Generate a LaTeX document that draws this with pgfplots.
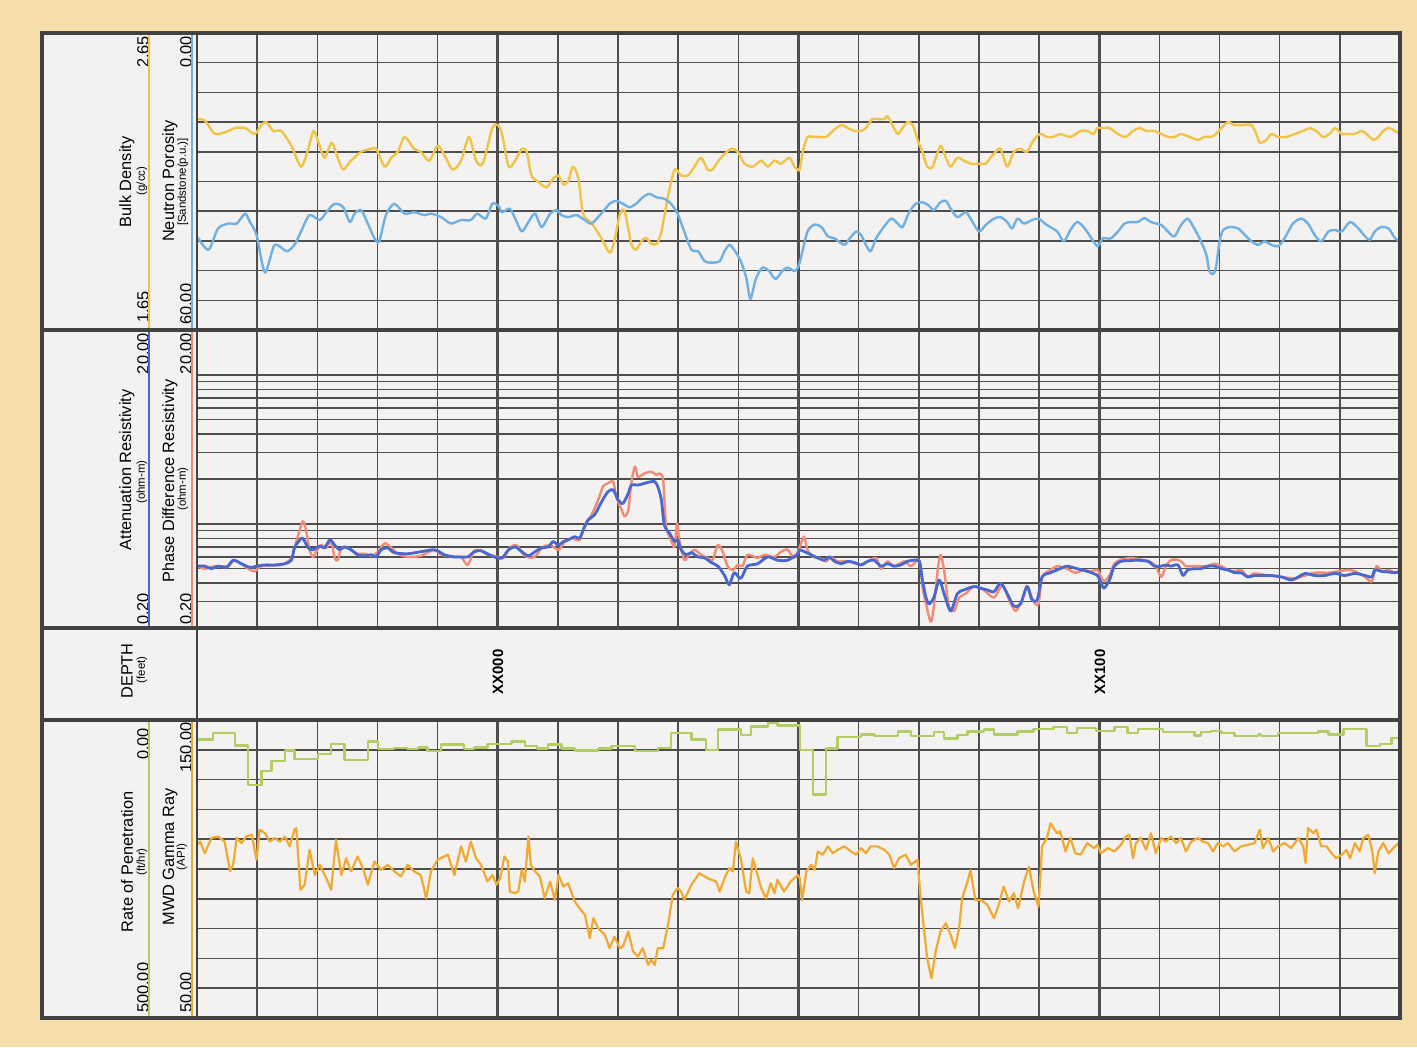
\documentclass[border=0pt]{standalone}
\usepackage{fontspec}
\setmainfont{Liberation Sans}
\usepackage{pgfplots}
\pgfplotsset{compat=1.18}
\definecolor{bgtan}{RGB}{246,222,172}
\definecolor{panel}{RGB}{243,242,240}
\definecolor{gridc}{RGB}{78,78,78}
\definecolor{framec}{RGB}{66,66,66}
\definecolor{densc}{RGB}{240,196,72}
\definecolor{neutc}{RGB}{112,176,226}
\definecolor{attc}{RGB}{72,104,208}
\definecolor{phasec}{RGB}{240,140,118}
\definecolor{ropc}{RGB}{178,206,98}
\definecolor{grc}{RGB}{240,170,50}
\pgfplotsset{
  track/.style={scale only axis, width=1203bp, anchor=north west,
    xmin=-50, xmax=150, xtick={-40,-30,...,140}, xticklabels={}, yticklabels={},
    major tick length=0pt, grid=major,
    major grid style={draw=gridc, line width=1.45bp},
    axis line style={draw=none},
    extra x ticks={0,50,100}, extra x tick labels={},
    extra x tick style={major grid style={draw=gridc, line width=2.7bp}}},
  ovl/.style={scale only axis, width=1203bp, anchor=north west,
    xmin=-50, xmax=150, hide axis},
  crv/.style={line width=2.4bp, line join=round, line cap=round},
  sm/.style={smooth, tension=0.45}
}
\newcommand{\hf}{\fontsize{16.4}{18}\selectfont}
\newcommand{\smf}{\fontsize{11.5}{13}\selectfont}
\newcommand{\nf}{\fontsize{16.4}{18}\selectfont}
\begin{document}
\begin{tikzpicture}[x=1bp,y=1bp]
\fill[bgtan] (0,0) rectangle (1417,1047);
\fill[panel] (42,29) rectangle (1400,1014);
% ---------------- top track: density / neutron
\begin{axis}[track, at={(197bp,1014bp)}, height=297bp, ymin=1.65, ymax=2.65,
  ytick={1.75,1.85,1.95,2.05,2.15,2.25,2.35,2.45,2.55}]
\addplot[crv, sm, densc] table {
-50.0 2.36
-48.7 2.355
-47.0 2.31
-44.8 2.32
-43.7 2.33
-42.0 2.33
-40.4 2.31
-39.3 2.34
-38.5 2.35
-37.3 2.32
-36.0 2.32
-34.3 2.27
-32.7 2.20
-31.5 2.26
-30.6 2.32
-29.6 2.27
-28.8 2.23
-27.6 2.28
-26.6 2.23
-25.7 2.19
-24.4 2.22
-22.7 2.25
-21.0 2.26
-20.2 2.26
-18.8 2.20
-17.7 2.23
-16.6 2.25
-15.5 2.30
-13.9 2.26
-12.8 2.25
-11.4 2.22
-10.0 2.27
-8.9 2.24
-7.5 2.19
-6.1 2.22
-4.8 2.30
-3.6 2.22
-2.5 2.21
-0.9 2.33
0.0 2.34
0.7 2.31
1.8 2.20
2.9 2.22
4.0 2.26
4.8 2.25
5.6 2.17
6.7 2.15
8.1 2.13
9.2 2.16
10.1 2.17
10.9 2.14
11.7 2.15
12.5 2.20
13.4 2.16
14.2 2.04
15.6 2.01
17.2 1.96
18.6 1.91
19.4 1.95
20.3 2.04
21.1 2.05
22.2 1.94
23.0 1.92
23.9 1.95
24.7 1.96
25.5 1.94
26.4 1.94
27.2 1.98
28.3 2.10
29.4 2.19
30.5 2.17
31.6 2.17
32.7 2.20
33.8 2.23
34.9 2.19
35.7 2.19
37.1 2.23
38.8 2.26
39.9 2.25
41.0 2.21
42.4 2.20
43.8 2.22
44.9 2.20
46.0 2.22
47.1 2.21
48.5 2.23
49.3 2.20
49.9 2.19
50.2 2.19
50.7 2.25
51.5 2.30
52.4 2.30
53.5 2.30
54.6 2.30
55.7 2.32
57.1 2.34
58.2 2.33
59.3 2.32
60.4 2.32
61.2 2.33
62.3 2.36
63.4 2.36
64.3 2.36
64.8 2.37
65.6 2.34
66.5 2.31
67.3 2.33
68.1 2.35
69.0 2.34
69.8 2.29
70.6 2.25
71.4 2.20
72.3 2.20
73.6 2.27
74.5 2.23
75.3 2.20
76.4 2.23
77.5 2.22
78.6 2.21
79.7 2.21
81.1 2.21
81.9 2.23
82.8 2.25
83.6 2.26
84.7 2.20
85.8 2.25
86.9 2.26
88.0 2.25
89.1 2.29
90.2 2.31
91.3 2.30
92.4 2.30
93.5 2.31
95.2 2.30
96.9 2.32
98.0 2.32
99.1 2.31
99.7 2.33
100.6 2.33
101.7 2.33
103.1 2.31
104.4 2.30
105.6 2.32
106.7 2.33
107.8 2.32
109.2 2.32
110.3 2.31
111.4 2.30
112.5 2.30
113.6 2.31
115.0 2.30
116.4 2.29
117.5 2.30
118.6 2.30
119.4 2.31
120.3 2.33
121.4 2.35
122.5 2.34
123.9 2.34
125.3 2.34
126.1 2.31
126.7 2.28
127.8 2.29
128.6 2.31
129.7 2.30
131.1 2.30
132.5 2.31
133.9 2.32
135.0 2.33
136.1 2.32
137.2 2.30
138.3 2.31
139.2 2.33
140.3 2.31
141.4 2.31
142.5 2.31
143.6 2.32
144.4 2.31
145.6 2.29
146.4 2.30
147.2 2.32
148.1 2.33
149.2 2.32
150.0 2.31
};
\end{axis}
\begin{axis}[ovl, at={(197bp,1014bp)}, height=297bp, ymin=0, ymax=60, y dir=reverse]
\addplot[crv, sm, neutc] table {
-50.0 41.1
-48.1 43.8
-46.5 39.5
-44.8 38.5
-43.4 38.5
-42.0 36.5
-41.2 38.2
-40.1 40.8
-38.7 48.4
-37.1 42.8
-35.1 44.1
-33.8 42.8
-32.7 40.1
-31.3 36.8
-29.6 37.8
-28.5 36.2
-27.1 34.5
-25.7 35.2
-24.6 38.2
-23.8 36.5
-22.7 35.8
-21.6 38.5
-20.5 41.5
-19.7 42.1
-18.6 36.8
-17.2 34.5
-15.5 36.5
-13.9 36.2
-12.2 36.8
-11.1 36.5
-9.4 37.2
-7.8 38.5
-6.1 37.8
-4.5 37.8
-3.4 36.5
-2.0 37.5
-0.9 34.5
0.1 34.9
0.7 36.2
2.0 35.5
2.9 37.5
4.0 40.1
5.1 38.2
6.2 36.5
7.3 39.2
8.7 36.5
9.8 35.8
10.6 36.8
11.7 37.2
13.1 36.8
14.5 37.8
15.6 38.5
17.2 36.5
18.6 34.5
19.7 33.9
20.8 34.5
21.9 35.2
23.0 34.5
24.1 33.2
25.2 32.5
26.4 33.2
27.7 33.5
28.8 34.5
29.9 36.5
31.0 40.1
32.2 43.8
33.3 44.1
34.4 46.1
35.5 46.4
36.9 46.1
37.7 44.1
38.5 42.8
39.3 43.8
40.4 46.1
41.3 49.4
42.0 53.7
42.9 49.7
44.0 47.4
45.1 48.1
46.2 49.7
47.3 48.1
48.2 47.4
49.3 48.1
49.9 47.4
50.4 45.4
51.5 40.1
52.7 38.7
53.8 39.2
54.9 41.1
56.0 41.5
57.6 42.8
58.5 41.5
59.6 40.1
60.4 40.8
61.2 42.8
62.0 44.1
62.9 41.5
64.0 39.5
65.4 37.5
66.5 38.5
67.3 39.2
68.4 36.2
69.5 34.5
70.6 34.2
71.7 34.9
72.5 35.8
73.6 34.2
74.5 33.9
75.3 35.5
76.4 37.2
77.8 36.2
78.6 37.5
80.0 40.1
81.1 38.8
82.5 37.5
83.6 37.2
84.7 38.2
85.5 39.5
86.4 37.5
87.5 38.5
88.8 37.8
89.9 37.5
91.3 38.8
93.0 40.1
94.1 42.1
95.2 39.8
96.3 38.2
97.4 39.2
98.5 41.1
99.7 43.1
100.6 41.5
101.9 41.5
103.1 40.1
104.2 38.5
105.3 38.2
106.4 38.2
107.5 37.4
108.6 38.2
110.3 38.8
111.4 40.1
112.5 41.1
113.6 38.8
114.7 37.5
115.8 39.5
116.9 42.1
117.8 44.8
118.3 48.1
118.9 48.7
119.4 47.4
120.0 42.1
120.6 39.8
121.7 39.2
123.1 39.5
124.2 40.8
125.3 42.1
126.4 42.8
127.5 42.1
128.6 42.8
129.7 43.1
130.8 41.5
132.2 38.5
133.6 37.5
134.7 38.5
135.8 40.8
136.9 42.1
138.1 40.1
139.2 39.8
140.3 40.1
141.7 38.2
143.1 39.5
144.2 41.1
145.0 41.8
145.8 40.1
146.9 39.2
148.1 39.5
149.2 41.5
150.0 42.1
};
\end{axis}
% ---------------- middle track: resistivity (log10 scale, 0.2 to 20 ohm-m)
\begin{axis}[track, at={(197bp,717bp)}, height=298bp, ymin=-0.69897, ymax=1.30103,
  ytick={-0.52288,-0.39794,-0.30103,-0.22185,-0.15490,-0.09691,-0.04576,0,0.30103,0.47712,0.60206,0.69897,0.77815,0.84510,0.90309,0.95424,1}]
\addplot[crv, sm, phasec] table[y expr={log10(\thisrowno{1})}] {
-50.0 0.52
-48.7 0.50
-47.0 0.52
-44.8 0.52
-43.7 0.57
-41.5 0.50
-40.4 0.48
-39.3 0.52
-36.0 0.53
-34.3 0.59
-33.5 0.76
-32.4 1.04
-31.8 0.87
-31.3 0.67
-30.7 0.60
-30.2 0.65
-29.3 0.72
-28.5 0.69
-27.7 0.76
-27.1 0.59
-26.6 0.57
-26.0 0.69
-24.9 0.69
-23.3 0.63
-22.2 0.63
-21.0 0.61
-19.9 0.65
-18.8 0.74
-17.7 0.69
-16.6 0.63
-15.0 0.60
-12.8 0.61
-10.6 0.67
-9.4 0.62
-7.2 0.60
-6.1 0.60
-5.0 0.53
-3.9 0.66
-2.8 0.66
-1.7 0.62
-0.6 0.61
0.9 0.59
2.0 0.69
3.1 0.72
4.3 0.62
5.6 0.59
6.5 0.62
7.3 0.69
8.7 0.72
10.1 0.67
11.2 0.76
12.3 0.80
13.6 0.78
14.5 0.98
15.6 1.15
16.7 1.45
17.5 1.78
18.3 1.87
19.2 1.92
19.7 1.52
20.6 1.24
21.1 1.12
21.7 1.24
22.2 1.87
22.8 2.42
23.3 2.07
24.4 2.18
25.5 2.24
26.4 2.13
26.9 2.18
27.5 1.97
28.0 0.96
28.8 0.78
29.4 0.70
29.8 1.01
30.1 0.82
30.5 0.67
31.1 0.57
31.9 0.63
32.7 0.67
33.8 0.62
34.9 0.59
35.7 0.57
36.6 0.72
37.4 0.65
38.2 0.52
39.1 0.49
39.9 0.53
40.7 0.52
41.5 0.62
43.2 0.59
44.3 0.62
46.0 0.60
47.1 0.65
48.2 0.67
49.3 0.59
50.2 0.70
50.9 0.82
51.5 0.67
52.4 0.60
53.5 0.59
54.6 0.56
55.4 0.60
56.5 0.56
58.2 0.56
60.4 0.53
61.5 0.56
62.9 0.59
63.7 0.50
64.8 0.56
65.9 0.52
67.6 0.56
68.7 0.52
70.1 0.57
70.6 0.38
71.2 0.29
72.0 0.22
72.5 0.28
73.1 0.47
73.6 0.62
74.2 0.49
75.0 0.28
75.9 0.26
76.7 0.32
77.8 0.34
79.2 0.38
80.8 0.36
82.5 0.32
83.9 0.39
85.0 0.31
86.1 0.26
87.2 0.31
88.0 0.38
89.1 0.30
89.9 0.29
90.5 0.44
91.9 0.49
93.0 0.52
94.6 0.50
96.0 0.47
97.4 0.49
98.5 0.48
99.7 0.49
100.3 0.44
100.8 0.41
101.7 0.45
102.5 0.54
103.6 0.575
105.3 0.59
106.9 0.575
108.3 0.56
109.4 0.52
110.3 0.44
111.1 0.52
111.9 0.57
112.8 0.575
113.6 0.56
114.4 0.52
115.3 0.52
116.4 0.52
117.8 0.52
119.2 0.54
120.3 0.52
121.4 0.49
122.5 0.48
123.6 0.49
124.7 0.44
125.8 0.465
128.1 0.45
130.3 0.44
132.5 0.43
134.2 0.45
135.8 0.47
138.1 0.47
139.7 0.48
141.4 0.49
142.5 0.48
144.2 0.44
145.3 0.41
146.1 0.52
146.9 0.48
148.1 0.49
149.2 0.47
150.0 0.49
};
\addplot[crv, sm, attc, line width=2.8bp] table[y expr={log10(\thisrowno{1})}] {
-50.0 0.52
-48.7 0.52
-47.6 0.50
-46.5 0.52
-45.1 0.51
-44.0 0.57
-42.6 0.54
-41.2 0.51
-40.1 0.52
-38.7 0.53
-37.1 0.53
-35.4 0.54
-34.3 0.57
-33.8 0.69
-32.9 0.78
-32.4 0.80
-31.5 0.69
-30.7 0.67
-29.6 0.71
-28.8 0.69
-27.9 0.78
-27.1 0.72
-26.3 0.67
-25.5 0.70
-24.4 0.67
-23.3 0.62
-22.2 0.61
-21.0 0.62
-20.2 0.60
-19.4 0.67
-18.3 0.69
-17.2 0.64
-15.0 0.63
-12.8 0.65
-10.8 0.67
-10.0 0.66
-8.9 0.62
-7.2 0.60
-6.1 0.60
-5.0 0.60
-3.9 0.65
-2.8 0.66
-1.7 0.63
-0.6 0.60
0.7 0.59
1.8 0.67
2.9 0.70
4.0 0.65
5.1 0.61
6.2 0.65
7.3 0.69
8.4 0.70
9.2 0.76
10.1 0.72
10.9 0.76
11.7 0.78
12.8 0.82
13.6 0.80
14.2 0.91
15.0 1.06
16.1 1.15
17.2 1.39
18.3 1.64
19.2 1.69
20.0 1.45
20.8 1.37
21.7 1.60
22.2 1.82
23.3 1.82
24.4 1.87
25.5 1.92
26.1 1.92
26.6 1.78
27.2 1.45
27.7 0.98
28.6 0.86
29.4 0.76
29.9 0.78
30.5 0.67
31.3 0.62
32.2 0.64
33.3 0.60
34.4 0.59
35.5 0.55
36.6 0.52
37.7 0.45
38.5 0.39
39.3 0.47
40.4 0.43
41.5 0.52
43.2 0.54
44.9 0.60
46.5 0.57
48.2 0.57
49.9 0.63
50.2 0.67
51.0 0.65
52.1 0.62
53.2 0.59
54.3 0.57
55.1 0.60
56.0 0.56
57.1 0.54
58.2 0.56
59.3 0.55
60.4 0.53
61.5 0.56
62.6 0.57
63.7 0.52
64.8 0.54
65.9 0.52
67.0 0.53
68.1 0.56
69.2 0.57
70.1 0.56
70.6 0.42
71.2 0.32
71.7 0.29
72.5 0.32
73.4 0.42
74.2 0.34
75.3 0.26
76.4 0.34
77.5 0.36
79.2 0.38
80.3 0.37
81.4 0.36
82.5 0.35
83.6 0.40
84.7 0.34
85.8 0.28
86.9 0.29
88.0 0.38
88.8 0.31
89.7 0.31
90.5 0.44
91.9 0.47
93.5 0.50
94.6 0.52
96.3 0.50
98.0 0.48
99.7 0.45
100.3 0.40
100.8 0.37
101.7 0.42
102.5 0.52
103.6 0.56
104.7 0.565
106.4 0.57
108.1 0.56
109.2 0.52
110.3 0.52
111.1 0.53
111.9 0.52
113.1 0.53
113.9 0.45
114.7 0.49
115.8 0.50
116.9 0.50
118.1 0.52
119.2 0.52
120.3 0.50
121.4 0.49
122.5 0.47
123.6 0.47
124.7 0.44
125.8 0.45
126.9 0.45
128.6 0.45
130.3 0.44
131.9 0.42
133.1 0.44
134.2 0.465
135.8 0.45
137.5 0.45
139.2 0.465
140.8 0.45
142.5 0.465
144.2 0.45
145.3 0.44
145.8 0.49
146.9 0.48
148.1 0.475
149.2 0.47
150.0 0.48
};
\end{axis}
% ---------------- bottom track: ROP / GR
\begin{axis}[track, at={(197bp,327bp)}, height=298bp, ymin=50, ymax=150,
  ytick={60,70,...,140}, extra y ticks={100}, extra y tick labels={},
  extra y tick style={major grid style={draw=gridc, line width=2.2bp}}]
\addplot[crv, grc, line width=2.2bp] table {
-50.0 108.0
-49.5 109.2
-48.7 105.3
-47.6 110.4
-46.5 110.9
-45.4 109.2
-44.5 99.2
-44.0 101.4
-43.4 110.4
-42.6 108.7
-41.8 110.9
-40.9 111.5
-40.1 103.1
-39.6 113.2
-38.7 112.0
-37.9 109.2
-37.1 110.4
-36.2 109.2
-35.4 110.9
-34.6 107.6
-33.8 113.2
-33.5 113.7
-32.8 93.0
-32.1 94.7
-31.3 106.4
-30.4 98.0
-29.6 101.4
-28.5 96.9
-27.7 93.0
-26.9 109.8
-26.0 98.0
-25.2 103.6
-24.4 99.2
-23.3 104.2
-22.4 100.3
-21.6 94.7
-20.5 102.5
-19.4 99.7
-18.3 101.4
-17.2 99.2
-16.1 97.5
-15.0 101.4
-13.9 99.2
-12.8 98.0
-11.9 90.2
-11.1 99.2
-10.0 103.1
-8.3 104.8
-7.2 98.0
-6.1 107.6
-5.3 102.5
-4.5 109.2
-3.6 103.6
-2.8 101.4
-1.7 95.8
-0.9 98.0
-0.2 94.7
0.4 96.9
1.1 104.2
1.7 102.5
2.0 92.4
2.9 91.9
3.4 92.4
4.0 99.7
4.5 95.8
5.1 110.9
5.5 101.4
6.2 99.2
7.0 97.5
7.8 90.2
8.7 95.8
9.5 89.6
10.1 98.0
10.9 94.1
11.7 95.2
12.8 89.1
13.6 86.8
14.5 84.6
15.3 76.8
15.9 83.5
16.7 80.1
17.8 77.9
18.6 73.4
19.4 77.3
20.3 73.4
20.8 74.0
21.7 79.0
22.5 72.3
23.3 70.6
24.1 73.4
25.0 67.8
25.5 69.5
26.1 67.8
26.6 73.4
27.5 73.4
28.3 81.2
29.1 91.3
29.9 93.6
30.5 92.4
31.0 89.6
32.2 94.7
33.5 98.6
34.9 96.9
36.3 95.8
36.9 92.4
37.7 96.9
38.5 100.3
39.1 99.2
39.6 109.2
40.4 103.6
41.3 92.4
41.8 91.9
42.4 103.6
43.2 98.0
43.8 93.6
44.6 90.2
45.4 95.2
46.0 91.9
46.5 96.4
47.6 92.4
48.7 95.8
49.9 98.0
50.2 96.9
50.6 89.6
51.3 99.2
52.1 101.4
52.7 99.7
53.2 105.9
54.0 104.8
54.9 107.6
55.7 105.3
56.5 106.4
57.6 107.6
58.7 105.9
59.6 104.8
60.4 107.0
61.2 105.3
62.0 107.6
63.1 107.6
64.3 106.4
65.1 104.8
65.9 100.3
66.7 103.6
67.8 104.8
68.7 101.4
69.8 103.1
70.2 92.4
70.9 79.0
71.4 70.0
72.1 63.3
72.8 72.3
73.6 79.0
74.5 81.8
75.3 77.9
76.0 73.4
76.7 80.1
77.2 90.2
78.1 95.8
78.6 99.7
79.4 89.6
80.3 89.6
81.4 88.0
82.5 83.5
83.3 88.0
84.1 94.1
85.0 89.1
85.8 91.9
86.5 86.8
87.5 95.8
88.3 100.8
89.1 92.4
89.9 87.4
90.5 107.6
91.3 110.4
91.9 115.4
92.4 113.7
93.0 112.0
93.5 112.6
94.4 105.9
95.2 110.4
96.0 105.3
96.9 104.8
98.0 108.7
99.1 107.0
99.7 108.1
100.3 105.3
101.4 107.0
102.5 105.9
103.6 108.1
104.4 110.9
105.0 111.5
105.6 103.6
106.1 108.7
106.9 110.4
107.8 106.4
108.6 112.0
109.4 105.3
110.3 110.4
111.1 109.2
111.9 110.9
112.8 108.7
113.6 110.4
114.4 105.9
115.3 109.2
116.4 110.4
117.2 109.2
118.1 108.7
118.9 105.9
119.7 108.7
120.6 107.6
121.4 108.7
122.5 105.9
123.6 107.6
124.7 108.1
125.8 108.7
126.7 113.2
127.2 107.0
128.1 110.4
128.9 105.9
129.7 107.6
130.8 108.7
131.9 107.0
133.1 110.4
133.9 107.6
134.3 102.0
134.7 113.7
135.6 112.0
136.1 113.2
136.9 107.6
137.8 107.6
138.6 105.3
139.4 103.6
140.3 104.8
141.1 106.4
141.7 103.6
142.5 108.7
143.3 105.9
143.9 110.4
144.7 111.5
145.4 105.9
145.8 98.6
146.4 105.9
147.2 108.7
148.1 105.3
148.9 107.0
150.0 109.2
};
\end{axis}
\begin{axis}[ovl, at={(197bp,327bp)}, height=298bp, ymin=0, ymax=500, y dir=reverse]
\addplot[crv, ropc, const plot, line cap=butt] table {
-50.0 33
-47.3 22
-43.7 43
-41.5 109
-39.3 86
-37.6 69
-35.4 51
-33.8 65
-29.9 57
-27.7 40
-25.5 67
-21.6 36
-19.9 49
-17.2 47
-15.0 49
-13.3 46
-11.7 52
-9.4 41
-5.6 49
-3.9 46
-1.7 40
2.3 36
4.5 44
6.5 48
8.4 41
10.6 48
12.8 51
16.7 48
18.9 44
22.8 52
26.6 47
28.8 22
32.2 33
34.6 50
36.6 16
40.4 25
42.1 11
44.9 4
46.5 9
50.2 50
52.4 125
54.6 48
56.5 29
60.4 24
62.6 27
66.5 19
68.7 27
72.5 20
74.2 31
76.4 25
78.1 19
80.8 16
82.5 24
86.4 19
89.1 15
92.4 12
94.6 22
96.3 13
99.5 18
102.5 12
104.7 22
106.4 15
110.6 20
115.8 26
116.9 20
118.6 18
120.3 22
122.5 27
126.4 24
126.9 27
129.7 22
136.4 19
138.1 24
140.6 15
144.4 44
146.7 40
148.6 30
150.0 30
};
\end{axis}
% ---------------- frames
\draw[framec, line width=3.2bp] (42,29) rectangle (1400,1014);
\draw[framec, line width=3.2bp] (42,717) -- (1400,717);
\draw[framec, line width=3.2bp] (42,419) -- (1400,419);
\draw[framec, line width=3.2bp] (42,327) -- (1400,327);
\draw[framec, line width=2.6bp] (197,29) -- (197,1014);
% ---------------- header: top track
\node[rotate=90] at (127,865) {\hf Bulk Density};
\node[rotate=90] at (142,866) {\smf (g/cc)};
\node[rotate=90, anchor=east, inner sep=0pt] at (143,1011) {\nf 2.65};
\node[rotate=90, anchor=west, inner sep=0pt] at (143,724) {\nf 1.65};
\draw[densc, line width=2bp] (149,719) -- (149,1012);
\node[rotate=90] at (170,866) {\hf Neutron Porosity};
\node[rotate=90] at (183,865) {\smf [Sandstone(p.u.)]};
\node[rotate=90, anchor=east, inner sep=0pt] at (186,1011) {\nf 0.00};
\node[rotate=90, anchor=west, inner sep=0pt] at (186,722) {\nf 60.00};
\draw[neutc, line width=2bp] (192,719) -- (192,1012);
% ---------------- header: middle track
\node[rotate=90] at (127,577) {\hf Attenuation Resistivity};
\node[rotate=90] at (142,565) {\smf (ohm-m)};
\node[rotate=90, anchor=east, inner sep=0pt] at (143,714) {\nf 20.00};
\node[rotate=90, anchor=west, inner sep=0pt] at (143,422) {\nf 0.20};
\draw[attc, line width=2bp] (149,421) -- (149,715);
\node[rotate=90] at (170,566) {\hf Phase Difference Resistivity};
\node[rotate=90] at (183,558) {\smf (ohm-m)};
\node[rotate=90, anchor=east, inner sep=0pt] at (186,714) {\nf 20.00};
\node[rotate=90, anchor=west, inner sep=0pt] at (186,422) {\nf 0.20};
\draw[phasec, line width=2bp] (192,421) -- (192,715);
% ---------------- header: depth
\node[rotate=90] at (127,376) {\hf DEPTH};
\node[rotate=90] at (142,377) {\smf (feet)};
\node[rotate=90] at (498,375) {\fontsize{15}{17}\selectfont\bfseries XX000};
\node[rotate=90] at (1100,375) {\fontsize{15}{17}\selectfont\bfseries XX100};
% ---------------- header: bottom track
\node[rotate=90] at (127,185) {\hf Rate of Penetration};
\node[rotate=90] at (142,185) {\smf (ft/hr)};
\node[rotate=90, anchor=east, inner sep=0pt] at (143,319) {\nf 0.00};
\node[rotate=90, anchor=west, inner sep=0pt] at (143,34) {\nf 500.00};
\draw[ropc, line width=2bp] (149,31) -- (149,325);
\node[rotate=90] at (170,190) {\hf MWD Gamma Ray};
\node[rotate=90] at (182,190) {\smf (API)};
\node[rotate=90, anchor=east, inner sep=0pt] at (186,325) {\nf 150.00};
\node[rotate=90, anchor=west, inner sep=0pt] at (186,34) {\nf 50.00};
\draw[grc, line width=2bp] (192,31) -- (192,325);
\end{tikzpicture}
\end{document}
